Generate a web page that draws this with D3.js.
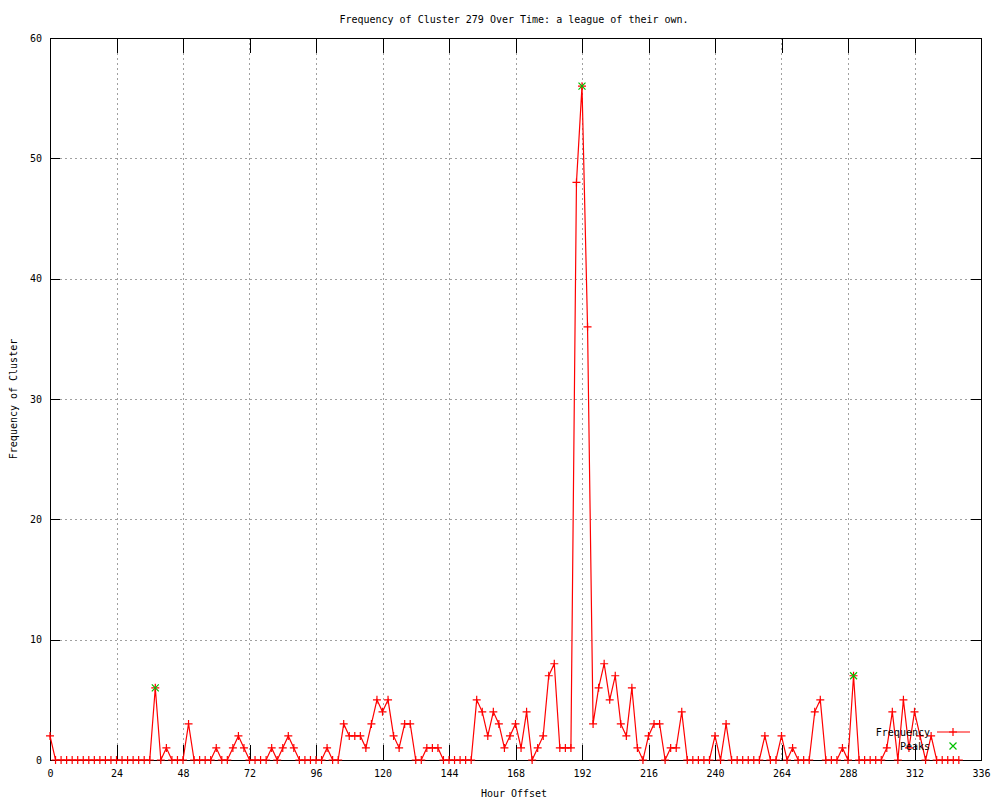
<!DOCTYPE html>
<html>
<head>
<meta charset="utf-8">
<script src="https://cdnjs.cloudflare.com/ajax/libs/d3/7.8.5/d3.min.js"></script>
<style>
  html, body { margin: 0; padding: 0; background: #fff; }
  svg { display: block; }
  text { font-family: "DejaVu Sans Mono", "Liberation Mono", monospace; font-size: 10px; fill: #000; }
</style>
</head>
<body>
<svg id="chart" width="1000" height="800"></svg>
<script>
// ---- data ----
const chartTitle = "Frequency of Cluster 279 Over Time: a league of their own.";
const xLabel = "Hour Offset";
const yLabel = "Frequency of Cluster";
const xTicks = [0, 24, 48, 72, 96, 120, 144, 168, 192, 216, 240, 264, 288, 312, 336];
const yTicks = [0, 10, 20, 30, 40, 50, 60];

// hour offsets (sampled every 2 hours)
const hours = [
  0, 2, 4, 6, 8, 10, 12, 14, 16, 18, 20, 22, 24, 26, 28, 30, 32, 34, 36, 38,
  40, 42, 44, 46, 48, 50, 52, 54, 56, 58, 60, 62, 64, 66, 68, 70, 72, 74, 76, 78,
  80, 82, 84, 86, 88, 90, 92, 94, 96, 98, 100, 102, 104, 106, 108, 110, 112, 114, 116, 118,
  120, 122, 124, 126, 128, 130, 132, 134, 136, 138, 140, 142, 144, 146, 148, 150, 152, 154, 156, 158,
  160, 162, 164, 166, 168, 170, 172, 174, 176, 178, 180, 182, 184, 186, 188, 190, 192, 194, 196, 198,
  200, 202, 204, 206, 208, 210, 212, 214, 216, 218, 220, 222, 224, 226, 228, 230, 232, 234, 236, 238,
  240, 242, 244, 246, 248, 250, 252, 254, 256, 258, 260, 262, 264, 266, 268, 270, 272, 274, 276, 278,
  280, 282, 284, 286, 288, 290, 292, 294, 296, 298, 300, 302, 304, 306, 308, 310, 312, 314, 316, 318,
  320, 322, 324, 326, 328
];
const frequency = [
  2, 0, 0, 0, 0, 0, 0, 0, 0, 0, 0, 0, 0, 0, 0, 0, 0, 0, 0, 6,
  0, 1, 0, 0, 0, 3, 0, 0, 0, 0, 1, 0, 0, 1, 2, 1, 0, 0, 0, 0,
  1, 0, 1, 2, 1, 0, 0, 0, 0, 0, 1, 0, 0, 3, 2, 2, 2, 1, 3, 5,
  4, 5, 2, 1, 3, 3, 0, 0, 1, 1, 1, 0, 0, 0, 0, 0, 0, 5, 4, 2,
  4, 3, 1, 2, 3, 1, 4, 0, 1, 2, 7, 8, 1, 1, 1, 48, 56, 36, 3, 6,
  8, 5, 7, 3, 2, 6, 1, 0, 2, 3, 3, 0, 1, 1, 4, 0, 0, 0, 0, 0,
  2, 0, 3, 0, 0, 0, 0, 0, 0, 2, 0, 0, 2, 0, 1, 0, 0, 0, 4, 5,
  0, 0, 0, 1, 0, 7, 0, 0, 0, 0, 0, 1, 4, 0, 5, 1, 4, 2, 0, 2,
  0, 0, 0, 0, 0
];
const peakHours = [38, 192, 290];
const peakValues = [6, 56, 7];
const seriesNames = ["Frequency", "Peaks"];

// ---- chart ----
const svg = d3.select("#chart");
const mLeft = 50, mRight = 981, mTop = 38, mBottom = 760;
const x = d3.scaleLinear().domain([0, 336]).range([mLeft, mRight]);
const y = d3.scaleLinear().domain([0, 60]).range([mBottom, mTop]);

const red = "#ff0000", green = "#00c000";

// grid
const grid = svg.append("g").attr("shape-rendering", "crispEdges")
  .attr("stroke", "#a0a0a0").attr("stroke-width", 1).attr("stroke-dasharray", "2,3");
grid.selectAll(".gx").data(xTicks.slice(1, -1)).enter().append("line")
  .attr("x1", d => Math.round(x(d)) + 0.5).attr("x2", d => Math.round(x(d)) + 0.5)
  .attr("y1", mTop).attr("y2", mBottom);
grid.selectAll(".gy").data(yTicks.slice(1, -1)).enter().append("line")
  .attr("x1", mLeft).attr("x2", mRight)
  .attr("y1", d => Math.round(y(d)) + 0.5).attr("y2", d => Math.round(y(d)) + 0.5);

// axes (ticks inward, mirrored)
const xLen = 15, yLen = 10;
const xAxisB = d3.axisBottom(x).tickValues(xTicks).tickSize(-xLen).tickPadding(10).tickFormat(d3.format("d"));
const xAxisT = d3.axisTop(x).tickValues(xTicks).tickSize(-xLen).tickFormat("");
const yAxisL = d3.axisLeft(y).tickValues(yTicks).tickSize(-yLen).tickPadding(8).tickFormat(d3.format("d"));
const yAxisR = d3.axisRight(y).tickValues(yTicks).tickSize(-yLen).tickFormat("");

function styleAxis(g) {
  g.select(".domain").remove();
  g.selectAll("line").attr("stroke", "#000").attr("shape-rendering", "crispEdges");
  g.selectAll("text").attr("font-family", "DejaVu Sans Mono, monospace").attr("font-size", 10).attr("fill", "#000");
}
svg.append("g").attr("transform", `translate(0,${mBottom})`).call(xAxisB).call(styleAxis);
svg.append("g").attr("transform", `translate(0,${mTop})`).call(xAxisT).call(styleAxis);
svg.append("g").attr("transform", `translate(${mLeft},0)`).call(yAxisL).call(styleAxis);
svg.append("g").attr("transform", `translate(${mRight},0)`).call(yAxisR).call(styleAxis);

// border
svg.append("rect").attr("x", mLeft + 0.5).attr("y", mTop + 0.5)
  .attr("width", mRight - mLeft).attr("height", mBottom - mTop)
  .attr("fill", "none").attr("stroke", "#000").attr("shape-rendering", "crispEdges");

// data
const data = hours.map((h, i) => ({ h, v: frequency[i] }));
const line = d3.line().x(d => x(d.h)).y(d => y(d.v));
svg.append("path").datum(data).attr("d", line)
  .attr("fill", "none").attr("stroke", red).attr("stroke-width", 1.2);

const plusPath = "M-4,0H4M0,-4V4";
const crossPath = "M-3.5,-3.5L3.5,3.5M-3.5,3.5L3.5,-3.5";
svg.append("g").selectAll("path").data(data).enter().append("path")
  .attr("transform", d => `translate(${x(d.h)},${y(d.v)})`)
  .attr("d", plusPath).attr("stroke", red).attr("stroke-width", 1.2).attr("fill", "none");

const peaks = peakHours.map((h, i) => ({ h, v: peakValues[i] }));
svg.append("g").selectAll("path").data(peaks).enter().append("path")
  .attr("transform", d => `translate(${x(d.h)},${y(d.v)})`)
  .attr("d", crossPath).attr("stroke", green).attr("stroke-width", 1.2).attr("fill", "none");

// title and axis labels
svg.append("text").attr("x", 514).attr("y", 23).attr("text-anchor", "middle").text(chartTitle);
svg.append("text").attr("x", 514).attr("y", 797).attr("text-anchor", "middle").text(xLabel);
svg.append("text").attr("transform", "translate(17,399) rotate(-90)").attr("text-anchor", "middle").text(yLabel);

// legend
const lg = svg.append("g");
lg.append("text").attr("x", 930).attr("y", 736).attr("text-anchor", "end").text(seriesNames[0]);
lg.append("line").attr("x1", 937).attr("x2", 970).attr("y1", 732).attr("y2", 732)
  .attr("stroke", red).attr("stroke-width", 1.2);
lg.append("path").attr("transform", "translate(953,732)").attr("d", plusPath)
  .attr("stroke", red).attr("stroke-width", 1.2);
lg.append("text").attr("x", 930).attr("y", 750).attr("text-anchor", "end").text(seriesNames[1]);
lg.append("path").attr("transform", "translate(953,746)").attr("d", crossPath)
  .attr("stroke", green).attr("stroke-width", 1.2);
</script>
</body>
</html>
